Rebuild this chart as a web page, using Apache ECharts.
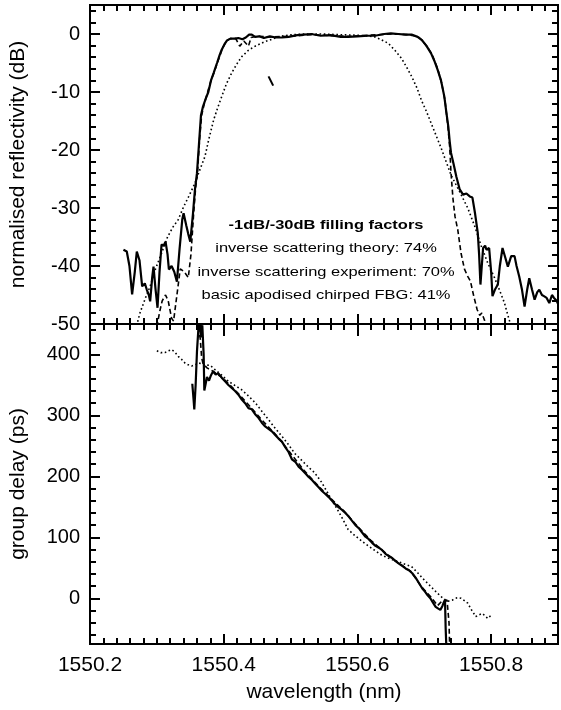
<!DOCTYPE html>
<html><head><meta charset="utf-8">
<script src="https://cdn.jsdelivr.net/npm/echarts@6/dist/echarts.min.js"></script>
<style>html,body{margin:0;padding:0;background:#fff}#c{width:561px;height:710px}</style>
</head><body><div id="c"></div>
<script>
// ---------- tick labels ----------
const xMajor = [1550.2, 1550.4, 1550.6, 1550.8];
const reflMajor = [-50, -40, -30, -20, -10, 0];
const delayMajor = [0, 100, 200, 300, 400];
const annotationLines = [
  '-1dB/-30dB filling factors',
  'inverse scattering theory: 74%',
  'inverse scattering experiment: 70%',
  'basic apodised chirped FBG: 41%'
];
// minor tick positions (axis decoration)
const xMinor = []; for (let i = 0; i <= 35; i++) xMinor.push(+(1550.2 + i * 0.02).toFixed(2));
const reflMinor = []; for (let v = -50; v <= 4; v += 2) reflMinor.push(v);
const delayMinor = []; for (let v = -60; v <= 440; v += 20) delayMinor.push(v);

// ---------- top panel: normalised reflectivity (dB) ----------
const reflExperiment = [
[1550.250,-37.2],[1550.255,-37.5],[1550.259,-40],[1550.263,-44.9],[1550.267,-41],[1550.270,-37.5],
[1550.274,-39],[1550.278,-43.5],[1550.282,-43],[1550.285,-44.1],[1550.288,-45],[1550.290,-46.1],
[1550.293,-42],[1550.295,-40.1],[1550.298,-44],[1550.301,-47.2],[1550.304,-41],[1550.307,-36.3],
[1550.310,-36.5],[1550.313,-35.8],[1550.316,-38],[1550.318,-40.6],[1550.322,-40],[1550.326,-41],
[1550.330,-42.7],[1550.334,-37],[1550.338,-32],[1550.340,-30.9],[1550.344,-33],[1550.347,-34.5],
[1550.350,-35.8],[1550.354,-31],[1550.357,-26.8],[1550.360,-24],[1550.363,-19],[1550.366,-14],
[1550.369,-12.5],[1550.373,-11.2],[1550.377,-10],[1550.381,-8],[1550.385,-6.7],[1550.390,-5],
[1550.394,-3.6],[1550.397,-2.7],[1550.401,-1.8],[1550.405,-1.1],[1550.410,-0.8],[1550.416,-0.8],
[1550.422,-0.7],[1550.428,-0.9],[1550.433,-0.6],[1550.438,-0.1],[1550.442,-0.1],[1550.447,-0.5],
[1550.453,-0.4],[1550.460,-0.7],[1550.469,-0.4],[1550.478,-0.6],[1550.487,-0.6],[1550.497,-0.5],
[1550.510,-0.2],[1550.520,-0.1],[1550.531,0],[1550.545,-0.3],[1550.560,-0.2],[1550.575,-0.5],
[1550.586,-0.5],[1550.600,-0.4],[1550.615,-0.3],[1550.626,-0.3],[1550.640,0],[1550.650,0.1],
[1550.661,0],[1550.672,-0.1],[1550.681,-0.1],[1550.690,-0.5],[1550.696,-1.0],[1550.703,-2],
[1550.710,-3.3],[1550.715,-4.6],[1550.720,-6.2],[1550.725,-8],[1550.730,-10.8],[1550.733,-13.5],
[1550.736,-16],[1550.738,-18.5],[1550.740,-20.5],[1550.744,-22.5],[1550.748,-24.6],[1550.753,-26.8],
[1550.758,-27.7],[1550.763,-27.5],[1550.768,-28.0],[1550.772,-28.2],[1550.776,-31],[1550.780,-34.3],
[1550.782,-38],[1550.784,-43.2],[1550.786,-40],[1550.788,-36.9],[1550.791,-36.5],[1550.793,-37.2],
[1550.797,-36.9],[1550.800,-41],[1550.802,-45.2],[1550.806,-44],[1550.810,-43.2],[1550.813,-40],
[1550.817,-36.9],[1550.821,-38.5],[1550.825,-40.1],[1550.830,-38.3],[1550.835,-38.3],[1550.838,-40],
[1550.842,-41.8],[1550.846,-44],[1550.850,-47.0],[1550.854,-44],[1550.857,-42.1],[1550.861,-44],
[1550.865,-45.8],[1550.869,-44.5],[1550.872,-44.1],[1550.876,-45],[1550.879,-45.2],[1550.883,-45.5],
[1550.887,-46.4],[1550.891,-45],[1550.894,-45.5],[1550.898,-46],[1550.900,-46.5]
];
const reflTheory = [
[1550.300,-50.5],[1550.304,-48],[1550.308,-46],[1550.313,-45],[1550.317,-46],[1550.322,-49],
[1550.325,-49.5],[1550.330,-45],[1550.335,-40.5],[1550.341,-41],[1550.347,-42],[1550.351,-38],
[1550.355,-31],[1550.358,-26.5],[1550.361,-23.5],[1550.364,-18],[1550.367,-14],[1550.371,-12],
[1550.376,-10],[1550.381,-8],[1550.386,-6.5],[1550.392,-4.5],[1550.398,-2.5],[1550.404,-1.2],
[1550.410,-0.8],[1550.418,-0.8],[1550.424,-2.1],[1550.430,-1.2],[1550.437,-2.1],[1550.441,-0.6],
[1550.450,-0.4],[1550.470,-0.5],[1550.500,-0.4],[1550.530,-0.1],[1550.560,-0.3],[1550.590,-0.4],
[1550.620,-0.2],[1550.650,0],[1550.675,-0.1],[1550.690,-0.4],[1550.697,-1.1],[1550.705,-2.3],
[1550.712,-3.6],[1550.720,-6],[1550.726,-8.5],[1550.731,-11.5],[1550.735,-15.5],[1550.738,-19.5],
[1550.740,-24],[1550.743,-28.5],[1550.746,-31.5],[1550.750,-33.7],[1550.755,-37.8],[1550.760,-40.5],
[1550.765,-41.8],[1550.769,-42.6],[1550.774,-45.2],[1550.779,-47.5],[1550.783,-48.5],[1550.786,-48.1],
[1550.790,-49.3],[1550.793,-51]
];
const reflBasic = [
[1550.268,-51],[1550.275,-48],[1550.283,-45.5],[1550.290,-43.5],[1550.298,-40.5],[1550.307,-37.8],
[1550.316,-35],[1550.324,-33.3],[1550.332,-32],[1550.340,-29.8],[1550.349,-27.7],[1550.357,-25.7],
[1550.365,-23.2],[1550.372,-21.1],[1550.378,-18],[1550.385,-14.8],[1550.391,-12.7],[1550.397,-10.8],
[1550.404,-8.6],[1550.412,-6.7],[1550.420,-5.1],[1550.427,-3.9],[1550.437,-2.8],[1550.447,-2.1],
[1550.460,-1.4],[1550.472,-0.9],[1550.485,-0.4],[1550.500,-0.15],[1550.520,0],[1550.545,0],
[1550.570,-0.1],[1550.595,-0.2],[1550.612,-0.3],[1550.626,-0.5],[1550.636,-1.0],[1550.646,-1.6],
[1550.656,-2.8],[1550.666,-4.2],[1550.674,-5.8],[1550.681,-7.3],[1550.689,-9.3],[1550.696,-11.5],
[1550.703,-13.3],[1550.710,-15.3],[1550.718,-17.6],[1550.725,-19.6],[1550.732,-21.8],[1550.740,-24.3],
[1550.752,-27],[1550.765,-30],[1550.775,-33],[1550.785,-36.5],[1550.795,-39.5],[1550.805,-42],
[1550.812,-44],[1550.820,-46.4],[1550.827,-49.3],[1550.832,-51]
];
const reflStray = [[1550.467,-7.3],[1550.474,-8.9]];

// ---------- bottom panel: group delay (ps) ----------
const delayExperiment = [
[1550.353,352],[1550.355,325],[1550.356,310],[1550.358,350],[1550.360,405],[1550.362,440],
[1550.364,458],[1550.366,428],[1550.368,448],[1550.370,400],[1550.371,341],[1550.373,352],
[1550.375,363],[1550.378,357],[1550.381,366],[1550.384,372],[1550.388,367],[1550.392,369],
[1550.397,362],[1550.402,356],[1550.407,350],[1550.412,345],[1550.417,340],[1550.422,334],
[1550.427,326],[1550.432,320],[1550.437,312],[1550.442,310],[1550.447,302],[1550.452,296],
[1550.457,288],[1550.462,282],[1550.467,278],[1550.472,274],[1550.477,268],[1550.482,262],
[1550.487,257],[1550.492,248],[1550.497,240],[1550.502,228],[1550.507,224],[1550.512,216],
[1550.517,211],[1550.522,205],[1550.527,199],[1550.532,194],[1550.537,188],[1550.542,182],
[1550.547,176],[1550.552,171],[1550.557,166],[1550.562,160],[1550.567,154],[1550.572,149],
[1550.577,145],[1550.582,140],[1550.587,134],[1550.592,127],[1550.597,120],[1550.602,115],
[1550.607,108],[1550.612,101],[1550.617,97],[1550.622,91],[1550.627,86],[1550.632,83],
[1550.637,79],[1550.642,73],[1550.647,69],[1550.652,66],[1550.657,61],[1550.662,57],
[1550.667,53],[1550.672,49],[1550.677,46],[1550.682,41],[1550.687,34],[1550.692,25],
[1550.697,16],[1550.701,11],[1550.705,5],[1550.709,0],[1550.713,-7],[1550.717,-14],
[1550.721,-17],[1550.724,-19],[1550.727,-13],[1550.729,-7],[1550.731,-3],[1550.732,-50],[1550.733,-80]
];
const delayTheory = [
[1550.362,445],[1550.365,425],[1550.367,395],[1550.369,385],[1550.375,378],[1550.385,372],
[1550.400,360],[1550.420,338],[1550.440,314],[1550.460,289],[1550.480,266],[1550.500,238],
[1550.520,210],[1550.540,186],[1550.560,164],[1550.580,143],[1550.600,118],[1550.620,95],
[1550.640,76],[1550.660,59],[1550.680,44],[1550.695,20],[1550.710,2],[1550.720,-12],
[1550.727,-4],[1550.734,-3],[1550.736,-2],[1550.737,-40],[1550.738,-80]
];
const delayBasic = [
[1550.300,406],[1550.306,403],[1550.312,403],[1550.317,406],[1550.322,408],[1550.327,404],
[1550.332,397],[1550.337,392],[1550.342,386],[1550.347,383],[1550.352,381],[1550.357,383],
[1550.362,386],[1550.367,385],[1550.372,383],[1550.380,382],[1550.387,375],[1550.397,366],
[1550.407,356],[1550.417,349],[1550.427,342],[1550.437,332],[1550.447,321],[1550.457,307],
[1550.467,293],[1550.477,279],[1550.487,266],[1550.497,252],[1550.506,238],[1550.516,227],
[1550.526,216],[1550.536,206],[1550.546,191],[1550.556,172],[1550.561,162],[1550.571,144],
[1550.578,130],[1550.586,113],[1550.596,103],[1550.611,90],[1550.624,80],[1550.636,71],
[1550.648,65],[1550.661,60],[1550.671,56],[1550.681,52],[1550.690,42],[1550.700,30],
[1550.710,19],[1550.720,8],[1550.728,0],[1550.735,-5],[1550.742,-3],[1550.749,1],
[1550.755,0],[1550.760,-4],[1550.765,-8],[1550.770,-18],[1550.777,-30],[1550.782,-27],
[1550.787,-25],[1550.791,-29],[1550.795,-33],[1550.799,-29],[1550.802,-27.5]
];

// ---------- chart ----------
const FONT = 'Liberation Sans';
const BLACK = '#000';
const X_MIN = 1550.2, X_MAX = 1550.9;
const REFL_MIN = -50, REFL_MAX = 5;
const DELAY_MIN = -75, DELAY_MAX = 450;

function xAxisDef(grid, pos, ticks, len, opts) {
  return Object.assign({
    type: 'value', gridIndex: grid, position: pos, min: X_MIN, max: X_MAX,
    axisLine: { show: true, onZero: false, lineStyle: { color: BLACK, width: 2 } },
    axisTick: { show: true, inside: true, length: len, customValues: ticks, lineStyle: { color: BLACK, width: 2 } },
    axisLabel: { show: false },
    splitLine: { show: false }
  }, opts || {});
}
function yAxisDef(grid, pos, min, max, ticks, len, opts) {
  return Object.assign({
    type: 'value', gridIndex: grid, position: pos, min: min, max: max,
    axisLine: { show: true, onZero: false, lineStyle: { color: BLACK, width: 2 } },
    axisTick: { show: true, inside: true, length: len, customValues: ticks, lineStyle: { color: BLACK, width: 2 } },
    axisLabel: { show: false },
    splitLine: { show: false }
  }, opts || {});
}
const MAJ = 10, MIN = 6;

const xAxes = [
  xAxisDef(0, 'bottom', xMajor, MAJ),
  xAxisDef(0, 'bottom', xMinor, MIN),
  xAxisDef(0, 'top', xMajor, MAJ),
  xAxisDef(0, 'top', xMinor, MIN),
  xAxisDef(1, 'bottom', xMajor, MAJ, {
    axisLabel: { show: true, customValues: xMajor, formatter: v => v.toFixed(1),
      fontFamily: FONT, fontSize: 21, color: BLACK, margin: 11 },
    name: 'wavelength (nm)', nameLocation: 'middle', nameGap: 38,
    nameTextStyle: { fontFamily: FONT, fontSize: 21, color: BLACK }
  }),
  xAxisDef(1, 'bottom', xMinor, MIN),
  xAxisDef(1, 'top', xMajor, 12),
  xAxisDef(1, 'top', xMinor, MIN)
];
const yAxes = [
  yAxisDef(0, 'left', REFL_MIN, REFL_MAX, reflMajor, MAJ, {
    axisLabel: { show: true, customValues: reflMajor, fontFamily: FONT, fontSize: 20, color: BLACK, margin: 10 },
    name: 'normalised reflectivity (dB)', nameLocation: 'middle', nameRotate: 90, nameGap: 61,
    nameTextStyle: { fontFamily: FONT, fontSize: 21, color: BLACK }
  }),
  yAxisDef(0, 'left', REFL_MIN, REFL_MAX, reflMinor, MIN),
  yAxisDef(0, 'right', REFL_MIN, REFL_MAX, reflMajor, MAJ),
  yAxisDef(0, 'right', REFL_MIN, REFL_MAX, reflMinor, MIN),
  yAxisDef(1, 'left', DELAY_MIN, DELAY_MAX, delayMajor, MAJ, {
    axisLabel: { show: true, customValues: delayMajor, fontFamily: FONT, fontSize: 20, color: BLACK, margin: 10 },
    name: 'group delay (ps)', nameLocation: 'middle', nameRotate: 90, nameGap: 61,
    nameTextStyle: { fontFamily: FONT, fontSize: 21, color: BLACK }
  }),
  yAxisDef(1, 'left', DELAY_MIN, DELAY_MAX, delayMinor, MIN),
  yAxisDef(1, 'right', DELAY_MIN, DELAY_MAX, delayMajor, MAJ),
  yAxisDef(1, 'right', DELAY_MIN, DELAY_MAX, delayMinor, MIN)
];

function line(name, data, xi, yi, style) {
  return { name: name, type: 'line', data: data, xAxisIndex: xi, yAxisIndex: yi,
    showSymbol: false, symbol: 'none', clip: true, silent: true,
    lineStyle: Object.assign({ color: BLACK }, style) };
}
const SOLID = { width: 2.2, type: 'solid' };
const DASHED = { width: 1.6, type: [5, 3] };
const DOTTED = { width: 1.6, type: [1.6, 2.6] };

const annotationGraphics = annotationLines.map((t, i) => ({
  type: 'text', x: 326, y: 225 + i * 23.5, scaleX: 1.22, z: 100,
  style: { text: t, fontFamily: FONT, fontSize: 13.5, fontWeight: i === 0 ? 'bold' : 'normal',
    fill: BLACK, textAlign: 'center', textVerticalAlign: 'middle' }
}));

const chart = echarts.init(document.getElementById('c'), null, { renderer: 'canvas' });
chart.setOption({
  animation: false,
  backgroundColor: '#fff',
  grid: [
    { left: 88, right: 3, top: 5, height: 319 },
    { left: 88, right: 3, top: 324, height: 320 }
  ],
  xAxis: xAxes,
  yAxis: yAxes,
  series: [
    line('inverse scattering experiment', reflExperiment, 0, 0, SOLID),
    line('inverse scattering theory', reflTheory, 0, 0, DASHED),
    line('basic apodised chirped FBG', reflBasic, 0, 0, DOTTED),
    line('artefact', reflStray, 0, 0, { width: 2, type: 'solid' }),
    line('inverse scattering experiment', delayExperiment, 4, 4, SOLID),
    line('inverse scattering theory', delayTheory, 4, 4, DASHED),
    line('basic apodised chirped FBG', delayBasic, 4, 4, DOTTED)
  ],
  graphic: annotationGraphics
});
</script>
</body></html>
